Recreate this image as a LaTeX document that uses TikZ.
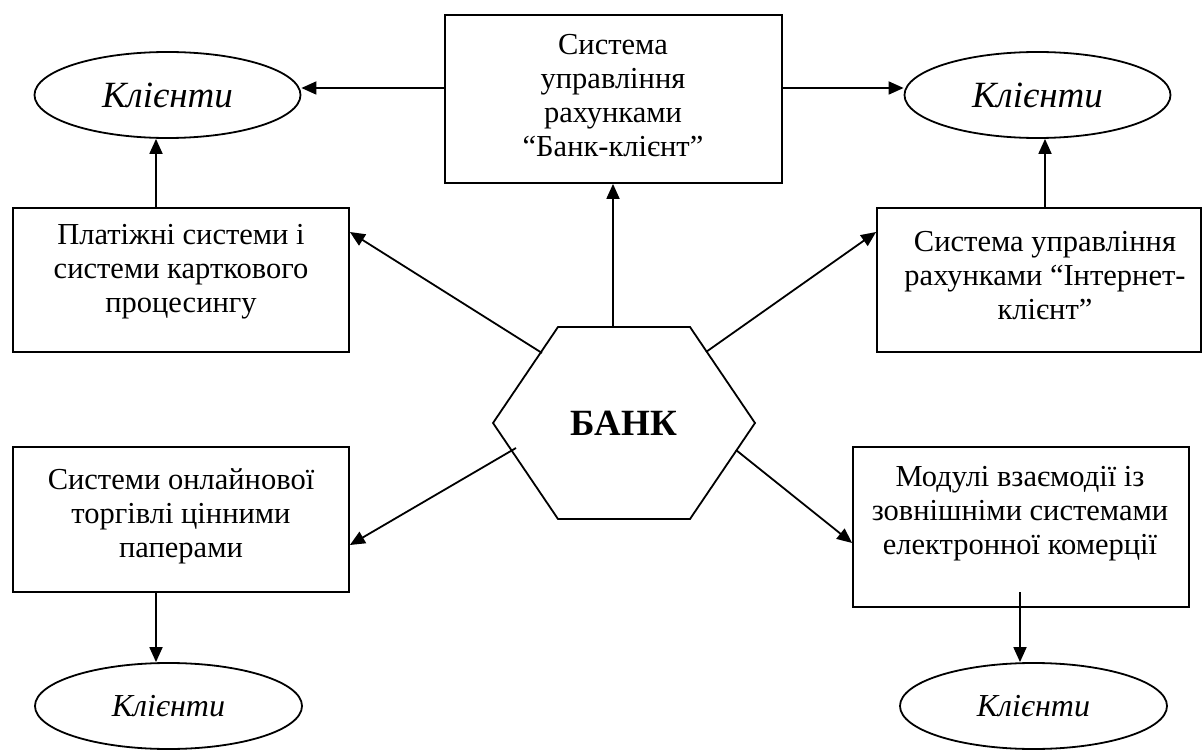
\documentclass[tikz,border=0pt]{standalone}
\usepackage{fontspec}
\setmainfont{Liberation Serif}
\usetikzlibrary{arrows.meta,shapes.geometric}
\tikzset{
  arr/.style={line width=1.8pt,-{Triangle[length=15pt,width=13pt]}},
  boxst/.style={draw,line width=1.8pt,rectangle,inner sep=0pt},
  ellst/.style={draw,line width=1.8pt,ellipse,inner sep=0pt},
  txt/.style={align=center,inner sep=0pt,anchor=north,font=\fontsize{30.5}{34}\selectfont},
}
\begin{document}
\begin{tikzpicture}[x=1pt,y=-1pt]
\useasboundingbox (0,0) rectangle (1203,754);
% boxes
\node[boxst,minimum width=337pt,minimum height=168pt] (top) at (613.5,99) {};
\node[boxst,minimum width=336pt,minimum height=144pt] (plat) at (181,280) {};
\node[boxst,minimum width=324pt,minimum height=144pt] (inet) at (1039,280) {};
\node[boxst,minimum width=336pt,minimum height=145pt] (trade) at (181,519.5) {};
\node[boxst,minimum width=336pt,minimum height=160pt] (mod) at (1021,527) {};
% ellipses
\node[ellst,minimum width=266pt,minimum height=86pt] (e1) at (167.5,95) {};
\node[ellst,minimum width=266pt,minimum height=86pt] (e2) at (1037.5,95) {};
\node[ellst,minimum width=267pt,minimum height=86pt] (e3) at (168.5,706) {};
\node[ellst,minimum width=267pt,minimum height=86pt] (e4) at (1033.5,706) {};
\node[font=\fontsize{37}{40}\selectfont\itshape] (t1) at (e1) {Клієнти};
\node[font=\fontsize{37}{40}\selectfont\itshape] (t2) at (e2) {Клієнти};
\node[font=\fontsize{32}{36}\selectfont\itshape] (t3) at (e3) {Клієнти};
\node[font=\fontsize{32}{36}\selectfont\itshape] (t4) at (e4) {Клієнти};
% hexagon
\coordinate (h1) at (558,327);
\coordinate (h2) at (690,327);
\coordinate (h3) at (755,423);
\coordinate (h4) at (690,519);
\coordinate (h5) at (558,519);
\coordinate (h6) at (493,423);
\draw[line width=1.8pt] (h1)--(h2)--(h3)--(h4)--(h5)--(h6)--cycle;
\node[font=\fontsize{37}{40}\selectfont\bfseries] (bank) at (624,423) {БАНК};
% texts
\node[txt] (ttop) at (613,34) {Система\\управління\\рахунками\\“Банк-клієнт”};
\node[txt] (tplat) at (181,224) {Платіжні системи і\\системи карткового\\процесингу};
\node[txt] (tinet) at (1045,231) {Система управління\\рахунками “Інтернет-\\клієнт”};
\node[txt] (ttrade) at (181,468) {Системи онлайнової\\торгівлі цінними\\паперами};
\node[txt] (tmod) at (1020,466) {Модулі взаємодії із\\зовнішніми системами\\електронної комерції};
% connector anchor points
\coordinate (a1) at (top.west |- 0,88);
\coordinate (a2) at (top.east |- 0,88);
\draw[arr] (a1) -- (e1.east |- a1);
\draw[arr] (a2) -- (e2.west |- a2);
\draw[arr] (plat.north -| 156,0) -- (e1.south -| 156,0);
\draw[arr] (inet.north -| 1045,0) -- (e2.south -| 1045,0);
\coordinate (hb) at (613,327);
\draw[arr] (hb) -- (top.south -| hb);
\coordinate (s1) at (542,353);
\coordinate (s2) at (706,352);
\coordinate (s3) at (516,448);
\coordinate (s4) at (736,450);
\draw[arr] (s1) -- (plat.east |- 0,232);
\draw[arr] (s2) -- (inet.west |- 0,232);
\draw[arr] (s3) -- (trade.east |- 0,545);
\draw[arr] (s4) -- (mod.west |- 0,543);
\coordinate (m1) at (1020,592);
\draw[arr] (m1) -- (e4.north -| m1);
\draw[arr] (trade.south -| 156,0) -- (e3.north -| 156,0);
\end{tikzpicture}
\end{document}
